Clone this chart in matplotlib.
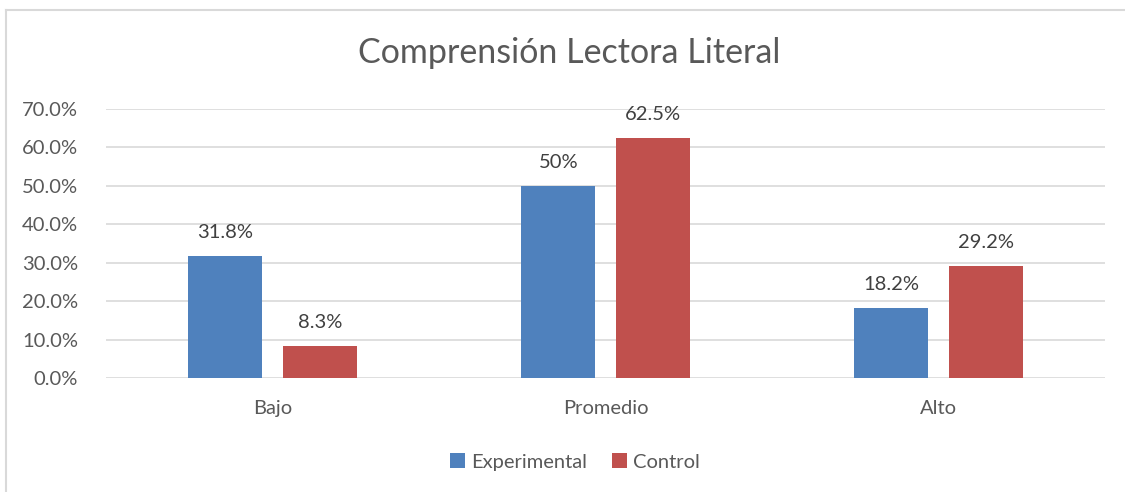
import matplotlib.pyplot as plt
import numpy as np
from matplotlib.lines import Line2D

categories = ["Bajo", "Promedio", "Alto"]
experimental = [31.8, 50.0, 18.2]
control = [8.3, 62.5, 29.2]
exp_labels = ["31.8%", "50%", "18.2%"]
ctrl_labels = ["8.3%", "62.5%", "29.2%"]
yticks = [0, 10, 20, 30, 40, 50, 60, 70]

BLUE = "#4F81BD"
RED = "#C0504D"
GREY = "#595959"

plt.rcParams["font.family"] = ["Lato", "DejaVu Sans"]

fig = plt.figure(figsize=(11.25, 4.92), dpi=100)
ax = fig.add_axes([106 / 1125, 1 - 378 / 492, (1105 - 106) / 1125, (378 - 109) / 492])

x = np.arange(len(categories))
w = 0.222
off = 0.142
b1 = ax.bar(x - off, experimental, w, color=BLUE, label="Experimental", zorder=3)
b2 = ax.bar(x + off, control, w, color=RED, label="Control", zorder=3)

for bars, labels in ((b1, exp_labels), (b2, ctrl_labels)):
    for bar, lab in zip(bars, labels):
        ax.annotate(lab, (bar.get_x() + bar.get_width() / 2, bar.get_height()),
                    xytext=(0, 11), textcoords="offset points",
                    ha="center", va="bottom", fontsize=14.5, color="#404040")

ax.set_xlim(-0.5, 2.5)
ax.set_ylim(0, 70)
ax.set_yticks(yticks)
ax.set_yticklabels([f"{v:.1f}%" for v in yticks])
ax.set_xticks(x)
ax.set_xticklabels(categories)
ax.tick_params(axis="both", length=0, labelsize=14.5, colors=GREY)
ax.tick_params(axis="y", pad=20)
ax.tick_params(axis="x", pad=16)
ax.grid(axis="y", color="#D9D9D9", linewidth=1.2, zorder=0)
for s in ax.spines.values():
    s.set_visible(False)

fig.text(569 / 1125, 1 - 53 / 492, "Comprensión Lectora Literal",
         ha="center", va="center", fontsize=24.5, color=GREY)

leg = fig.legend(handles=[b1, b2], loc="center", bbox_to_anchor=(575 / 1125, 1 - 462 / 492),
                 ncol=2, frameon=False, fontsize=14.5, handlelength=0.75, handleheight=0.75,
                 handletextpad=0.3, columnspacing=1.2)
for t in leg.get_texts():
    t.set_color(GREY)

# outer chart border (left and top visible)
fig.add_artist(Line2D([6 / 1125, 6 / 1125], [0, 1 - 10 / 492], transform=fig.transFigure,
                      color="#D9D9D9", linewidth=1.5))
fig.add_artist(Line2D([6 / 1125, 1], [1 - 10 / 492, 1 - 10 / 492], transform=fig.transFigure,
                      color="#D9D9D9", linewidth=1.5))

fig.savefig("out.png", dpi=100)
plt.close(fig)
